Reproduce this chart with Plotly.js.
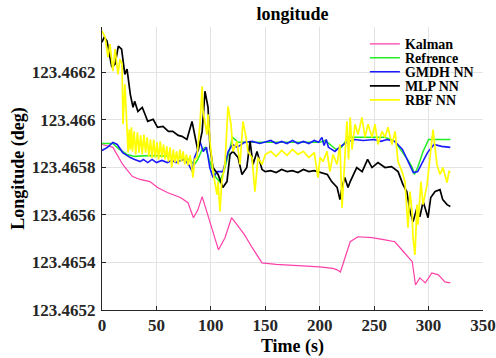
<!DOCTYPE html>
<html>
<head>
<meta charset="utf-8">
<script src="https://cdn.plot.ly/plotly-3.0.1.min.js"></script>
<style>html,body{margin:0;padding:0;background:#fff;}#chart{width:496px;height:358px;}</style>
</head>
<body>
<div id="chart"></div>
<script>
var seriesNames = ["Kalman", "Refrence", "GMDH NN", "MLP NN", "RBF NN"];

var kalmanT = [0,10,19,28,35,44,51,60,72,79,84,88,92,97,102,107,113,119,124,131,138,147,160,180,200,212,216,219,221,224,228,235,248,260,269,277,285,288,292,297,303,309,315,320];
var kalmanV = [123.465896,123.465884,123.465812,123.465761,123.465749,123.46574,123.465715,123.465694,123.465673,123.465651,123.465588,123.46562,123.465677,123.465601,123.465529,123.465453,123.465504,123.465588,123.465559,123.465516,123.465462,123.465398,123.465392,123.465388,123.465381,123.465375,123.465369,123.46536,123.46539,123.46543,123.465487,123.465508,123.465504,123.465495,123.465487,123.465445,123.465403,123.465305,123.465335,123.465314,123.465356,123.465348,123.465318,123.465314];

var refT = [0,10,16,23,30,44,62,72,80,85,88,92,95,99,104,108,112,116,120,125,140,160,180,200,205,210,215,220,226,240,260,269,273,278,282,285,287,290,295,300,310,320];
var refV = [123.4659,123.4659,123.465875,123.465854,123.465846,123.46585,123.465846,123.465841,123.465833,123.465812,123.465833,123.465875,123.465884,123.465824,123.465761,123.46574,123.465782,123.465854,123.465926,123.465905,123.465905,123.465905,123.465905,123.465905,123.465913,123.465892,123.465875,123.465884,123.465926,123.465926,123.465926,123.465909,123.465884,123.46585,123.465824,123.465799,123.46577,123.465799,123.465867,123.465917,123.465917,123.465917];

var gmdhT = [0,5,10,14,19,26,30,35,38,42,46,50,55,60,64,68,72,76,80,83,85,88,90,93,96,99,102,106,111,116,120,124,131,138,145,150,155,160,165,170,175,180,185,190,195,199,202,204,206,208,211,214,218,222,226,232,240,250,256,262,269,276,281,286,290,295,299,305,312,320];
var gmdhV = [123.465871,123.465884,123.465905,123.465896,123.465862,123.465841,123.465833,123.465824,123.465833,123.46582,
123.465833,123.46582,123.465829,123.46582,123.465829,123.46582,123.465829,123.465833,123.465808,123.465782,
123.465841,123.465875,123.465909,123.465867,123.465884,123.465799,123.465757,123.465782,123.465782,123.465867,
123.465896,123.465884,123.465905,123.465909,123.4659,123.465905,123.465913,123.4659,123.465909,123.4659,
123.465913,123.4659,123.465909,123.4659,123.465913,123.465905,123.465926,123.465892,123.465917,123.465884,
123.465875,123.465867,123.465884,123.465896,123.465909,123.465917,123.465913,123.465917,123.465909,123.465917,
123.465909,123.465875,123.465824,123.465778,123.465782,123.465824,123.465862,123.465896,123.465888,123.465884];

var mlpT = [0,2,4.6,9,12,15,18,21,23,26,28.5,30,33,37,39.5,42,47,51,56,61,65,70,73.5,78,82.7,85.4,88.2,92,94.6,97.4,99.2,102,106.6,111,114.8,117.6,120.3,125,128.6,133,136,138.7,142.4,147,150,155,160,165,170,175,180,185,190,195,200,207,211,216,218.6,220.5,223,226,228,234,239,244,248,253.5,260,266,272,276.5,280,283,285.7,289.4,292,295,299.5,302,306,310.5,313,317,320];
var mlpV = [123.466326,123.466348,123.466331,123.466221,123.466234,123.46631,123.466297,123.466191,123.466213,123.466107,
123.466052,123.466078,123.466035,123.466052,123.466023,123.465993,123.466002,123.465968,123.465972,123.465951,
123.465951,123.465934,123.46593,123.465917,123.465993,123.465926,123.465867,123.465951,123.46612,123.466052,
123.465884,123.465799,123.46577,123.465715,123.46574,123.465854,123.465867,123.465841,123.46577,123.465799,
123.465909,123.465812,123.465867,123.465791,123.465782,123.465786,123.465778,123.465791,123.465782,123.465786,
123.465778,123.465791,123.465782,123.465786,123.465778,123.46577,123.46574,123.465715,123.465664,123.465715,
123.465757,123.465715,123.46574,123.465799,123.465782,123.465833,123.465799,123.46582,123.465799,123.465803,
123.465782,123.465727,123.465698,123.465614,123.465571,123.46563,123.465592,123.465656,123.465588,123.465673,
123.465698,123.465706,123.465664,123.465643,123.465635];

var rbfT = [0,2.8,5.5,7.3,10,12,14.7,16.5,18.4,
19.3,21,22,23,24,25,26,27,28,29.5,31,32.5,34,35.5,37,38.5,40,41.5,43,44.5,46,47.5,49,50.5,52,53.5,55,56.5,58,59.5,61,62.5,64,65.5,67,68.5,70,71.5,73,74.5,76,77.5,79,81,82.7,83.6,85,87.3,
90,92,92.8,96.5,
97.4,99.2,102,105.6,106.6,108.4,110,113,115.7,118.5,
120.3,124,126.8,129.5,132.3,134,137.8,140.5,143.3,147,
150,155,160,165,170,175,180,185,190,195,
198.4,200.3,203,206.7,209.4,212.2,215.9,218.6,220.5,223,
225,226.5,228,229.7,232.4,235.2,238.8,241.6,244.4,248,
250.8,253.5,257.2,260,262.7,266.4,269.2,271.9,275.6,278.3,
281.1,282.9,284.8,285.7,287.5,289.4,290.3,293,294.9,298.6,
301.3,304.1,307.7,310.5,313.2,316.9,318.8,320];
var rbfV = [123.466373,123.466348,123.466263,123.466318,123.466204,123.466297,123.466191,123.466255,123.466234,
123.465981,123.466149,123.466044,123.465981,123.465862,123.465959,123.465875,123.465968,123.465867,123.465951,
123.465854,123.465947,123.465862,123.465934,123.465854,123.465938,123.465862,123.465926,123.465846,123.465917,
123.465841,123.465917,123.465841,123.465905,123.465833,123.465909,123.465841,123.465896,123.465833,123.465888,
123.465824,123.465884,123.465799,123.465875,123.46582,123.465867,123.465812,123.465875,123.465824,123.465867,
123.465812,123.465854,123.465808,123.46585,123.465799,123.465757,123.465833,123.465841,
123.465981,123.466141,123.466035,123.465938,
123.466023,123.465909,123.465782,123.465685,123.46574,123.465614,123.46574,123.465812,123.466056,123.465981,
123.465867,123.465909,123.465812,123.465993,123.465926,123.465867,123.465841,123.465698,123.465841,123.465812,
123.465854,123.465867,123.465846,123.465871,123.46585,123.465875,123.465854,123.465867,123.465841,123.465862,
123.465757,123.465841,123.465824,123.465867,123.465782,123.465854,123.465812,123.465896,123.46563,123.465867,
123.465993,123.465833,123.46601,123.465875,123.465981,123.465938,123.46601,123.465926,123.465981,123.465926,
123.465981,123.465896,123.465951,123.465926,123.465968,123.465896,123.465951,123.465824,123.465782,123.46574,
123.465546,123.465698,123.465614,123.465504,123.465432,123.465643,123.465559,123.46574,123.465643,123.465727,
123.465841,123.465959,123.465812,123.46577,123.465799,123.465736,123.465782,123.465778];

var xTickVals = [0,50,100,150,200,250,300,350];
var yTickVals = [123.4652,123.4654,123.4656,123.4658,123.466,123.4662];
var yTickText = ["123.4652","123.4654","123.4656","123.4658","123.466","123.4662"];

var colors = ["#ff3fa8", "#22ee22", "#1a1aff", "#000000", "#ffff00"];
var widths = [1.2, 1.5, 1.6, 1.7, 1.7];
var xs = [kalmanT, refT, gmdhT, mlpT, rbfT];
var ys = [kalmanV, refV, gmdhV, mlpV, rbfV];
var legIds = ["legend", "legend2", "legend3", "legend4", "legend5"];
var serif = "Liberation Serif, Times New Roman, serif";

var traces = [];
for (var i = 0; i < 5; i++) {
  traces.push({
    x: xs[i], y: ys[i], type: "scatter", mode: "lines", name: seriesNames[i],
    line: {color: colors[i], width: widths[i]},
    legend: legIds[i]
  });
}

var legRowY = [0.9392, 0.8898, 0.8403, 0.7908, 0.7413];
var layout = {
  width: 496, height: 358,
  margin: {l: 102, r: 13, t: 27, b: 48},
  paper_bgcolor: "#fff", plot_bgcolor: "#fff",
  title: {text: "longitude", font: {family: serif, size: 18, color: "#000", weight: "bold"}, x: 0.5895, xanchor: "center", y: 0.962, yanchor: "middle"},
  xaxis: {
    range: [0, 350], tickvals: xTickVals, ticks: "inside", ticklen: 4, tickcolor: "#262626",
    showgrid: true, gridcolor: "#e3e3e3", zeroline: false,
    showline: true, linecolor: "#262626", linewidth: 1, mirror: false,
    tickfont: {family: serif, size: 17, color: "#262626", weight: "bold"},
    title: {text: "Time (s)", font: {family: serif, size: 18, color: "#000", weight: "bold"}, standoff: 4}
  },
  yaxis: {
    range: [123.4652, 123.46639], tickvals: yTickVals, ticktext: yTickText, ticks: "inside", ticklen: 4, tickcolor: "#262626",
    showgrid: true, gridcolor: "#e3e3e3", zeroline: false,
    showline: true, linecolor: "#262626", linewidth: 1, mirror: false,
    tickfont: {family: serif, size: 17, color: "#262626", weight: "bold"},
    ticklabelstandoff: 2,
    title: {text: "Longitude (deg)", font: {family: serif, size: 18, color: "#000", weight: "bold"}, standoff: 2}
  },
  showlegend: true
};
for (var j = 0; j < 5; j++) {
  layout[legIds[j]] = {
    x: 0.69, xanchor: "left", y: legRowY[j], yanchor: "middle",
    bgcolor: "rgba(0,0,0,0)", borderwidth: 0,
    font: {family: serif, size: 14, color: "#000", weight: "bold"}
  };
}

Plotly.newPlot("chart", traces, layout, {displayModeBar: false, staticPlot: true});
</script>
</body>
</html>
